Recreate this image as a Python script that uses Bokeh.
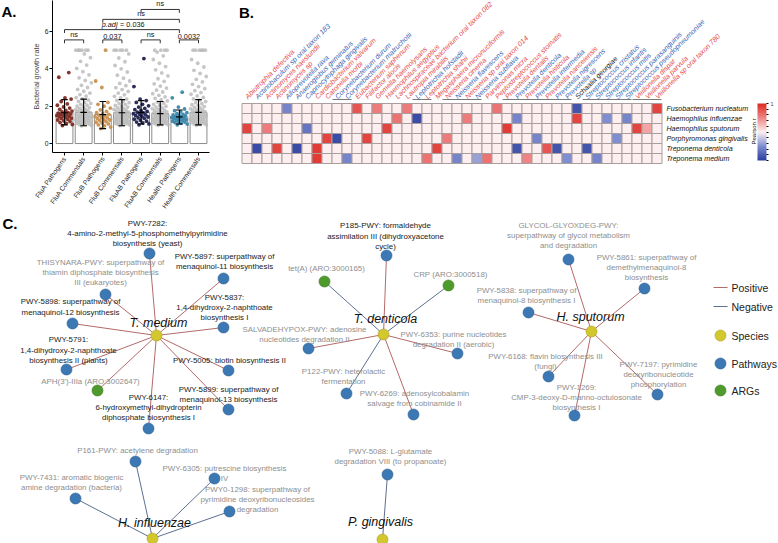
import numpy as np
from bokeh.plotting import figure
from bokeh.models import Range1d, FixedTicker, LinearColorMapper, ColorBar, ColumnDataSource
from bokeh.layouts import column, row
from bokeh.embed import file_html
from bokeh.resources import INLINE
from bokeh.core.properties import value

FONT = "Liberation Sans"

# ======================= PANEL A DATA =======================
groups = ["FluA Pathogens", "FluA Commensals", "FluB Pathogens", "FluB Commensals",
          "FluAB Pathogens", "FluAB Commensals", "Health Pathogens", "Health Commensals"]
bar_mean = [1.65, 1.67, 1.55, 1.65, 1.67, 1.60, 1.43, 1.67]
err_lo = [1.00, 0.95, 0.80, 0.95, 1.05, 1.00, 1.05, 1.00]
err_hi = [2.35, 2.38, 2.25, 2.35, 2.30, 2.25, 1.80, 2.35]

pts_fluA_path = [0.96, 1.02, 1.08, 1.12, 1.18, 1.21, 1.26, 1.3, 1.33, 1.36, 1.4, 1.43, 1.45, 1.48,
                 1.5, 1.53, 1.56, 1.58, 1.6, 1.63, 1.66, 1.7, 1.74, 1.78, 1.83, 1.9, 1.96, 2.05,
                 2.12, 2.25, 2.38, 2.45, 3.55, 3.8]
pts_fluA_comm = [0.95, 0.97, 1.0, 1.02, 1.04, 1.07, 1.09, 1.11, 1.13, 1.16, 1.18, 1.2, 1.23, 1.25,
                 1.27, 1.3, 1.32, 1.34, 1.37, 1.39, 1.41, 1.44, 1.46, 1.48, 1.51, 1.53, 1.56, 1.58,
                 1.61, 1.63, 1.66, 1.69, 1.72, 1.75, 1.78, 1.81, 1.84, 1.88, 1.92, 1.96, 2.0, 2.05,
                 2.1, 2.15, 2.2, 2.26, 2.32, 2.39, 2.46, 2.54, 2.62, 2.7, 2.8, 2.9, 3.0, 3.12, 3.25,
                 3.38, 3.52, 3.68, 3.85, 4.02, 4.2, 4.4, 4.6, 4.8, 5.0, 5.0, 5.0, 5.0, 5.0, 5.0]
pts_fluB_path = [0.8, 0.88, 0.95, 1.0, 1.05, 1.1, 1.14, 1.18, 1.22, 1.26, 1.3, 1.33, 1.37, 1.4,
                 1.44, 1.48, 1.52, 1.56, 1.6, 1.66, 1.72, 1.8, 1.9, 2.0, 2.1, 2.2, 3.0, 3.35, 5.0]
pts_fluB_comm = [0.96, 0.99, 1.01, 1.03, 1.06, 1.08, 1.1, 1.12, 1.15, 1.17, 1.19, 1.22, 1.24, 1.26,
                 1.29, 1.31, 1.33, 1.36, 1.38, 1.4, 1.43, 1.45, 1.47, 1.5, 1.52, 1.55, 1.57, 1.6,
                 1.62, 1.65, 1.68, 1.71, 1.74, 1.77, 1.8, 1.83, 1.87, 1.91, 1.95, 1.99, 2.04, 2.09,
                 2.14, 2.19, 2.25, 2.31, 2.38, 2.45, 2.53, 2.61, 2.7, 2.79, 2.89, 2.99, 3.1, 3.22,
                 3.35, 3.5, 3.66, 3.83, 4.0, 4.18, 4.38, 4.58, 4.8, 5.0, 5.0, 5.0, 5.0, 5.0]
pts_fluAB_path = [1.0, 1.05, 1.1, 1.15, 1.2, 1.25, 1.3, 1.35, 1.38, 1.42, 1.46, 1.5, 1.53, 1.57,
                  1.6, 1.64, 1.68, 1.72, 1.77, 1.82, 1.88, 1.95, 2.02, 2.1, 2.2, 2.3, 2.38, 3.05, 4.55]
pts_fluAB_comm = [0.97, 1.0, 1.02, 1.04, 1.07, 1.09, 1.11, 1.14, 1.16, 1.18, 1.21, 1.23, 1.25, 1.28,
                  1.3, 1.32, 1.35, 1.37, 1.39, 1.42, 1.44, 1.46, 1.49, 1.51, 1.54, 1.56, 1.59, 1.61,
                  1.64, 1.67, 1.7, 1.73, 1.76, 1.79, 1.83, 1.87, 1.91, 1.95, 2.0, 2.05, 2.1, 2.16,
                  2.22, 2.28, 2.35, 2.42, 2.5, 2.58, 2.67, 2.76, 2.86, 2.97, 3.08, 3.2, 3.33, 3.47,
                  3.62, 3.78, 3.95, 4.12, 4.3, 4.5, 4.7, 4.9, 5.0, 5.0, 5.0, 5.0]
pts_health_path = [1.0, 1.04, 1.08, 1.12, 1.15, 1.18, 1.2, 1.23, 1.26, 1.28, 1.3, 1.33, 1.35, 1.38,
                   1.4, 1.42, 1.45, 1.48, 1.5, 1.53, 1.56, 1.6, 1.65, 1.7, 1.76, 1.85, 1.95, 2.45, 2.75]
pts_health_comm = [0.98, 1.0, 1.02, 1.05, 1.07, 1.09, 1.12, 1.14, 1.16, 1.19, 1.21, 1.23, 1.26,
                   1.28, 1.3, 1.33, 1.35, 1.37, 1.4, 1.42, 1.44, 1.47, 1.49, 1.52, 1.54, 1.57, 1.59,
                   1.62, 1.64, 1.67, 1.7, 1.73, 1.76, 1.79, 1.82, 1.86, 1.9, 1.94, 1.98, 2.03, 2.08,
                   2.13, 2.19, 2.25, 2.32, 2.39, 2.47, 2.55, 2.64, 2.73, 2.83, 2.94, 3.05, 3.17,
                   3.3, 3.44, 3.59, 3.75, 3.92, 4.1, 4.3, 4.5, 5.0, 5.0, 5.0, 5.0, 5.0, 5.0]
group_points = [pts_fluA_path, pts_fluA_comm, pts_fluB_path, pts_fluB_comm,
                pts_fluAB_path, pts_fluAB_comm, pts_health_path, pts_health_comm]
point_colors = ["#7f2a22", "#b8b8b8", "#c8904f", "#b8b8b8", "#1f2150", "#b8b8b8", "#3b86aa", "#b8b8b8"]

comparisons = [(0, 1, "ns"), (2, 3, "0.037"), (4, 5, "ns"), (6, 7, "0.0032"),
               (0, 6, "p.adj = 0.036"), (2, 6, "ns"), (4, 6, "ns")]
comparison_levels = [5.55, 5.55, 5.55, 5.55, 6.1, 6.65, 7.18]

# ======================= PANEL B DATA =======================
taxa = ["Abiotrophia defectiva", "Actinobaculum sp oral taxon 183", "Actinomyces naeslundii",
        "Actinomyces sp", "Alloprevotella rava", "Anaeroglobus geminatus", "Capnocytophaga gingivalis",
        "Cardiobacterium valvarum", "Catonella morbi", "Corynebacterium durum",
        "Corynebacterium matruchotii", "Eubacterium saphenum", "Filifactor alocis",
        "Gemella haemolysans", "Haemophilus aegyptius", "Lachnospiraceae bacterium oral taxon 082",
        "Lautropia mirabilis", "Leptotrichia hofstadii", "Leptotrichia shahii",
        "Megasphaera micronuciformis", "Neisseria cinerea", "Neisseria flavescens",
        "Neisseria sp oral taxon 014", "Neisseria subflava", "Parvimonas micra",
        "Peptostreptococcus stomatis", "Prevotella dentalis", "Prevotella denticola",
        "Prevotella histicola", "Prevotella intermedia", "Prevotella nanceiensis",
        "Prevotella nigrescens", "Prevotella sp", "Schaalia georgiae", "Streptococcus cristatus",
        "Streptococcus infantis", "Streptococcus mitis", "Streptococcus parasanguinis",
        "Streptococcus pseudopneumoniae", "Veillonella dispar", "Veillonella parvula",
        "Veillonella sp oral taxon 780"]
pathogens = ["Fusobacterium nucleatum", "Haemophilus influenzae", "Haemophilus sputorum",
             "Porphyromonas gingivalis", "Treponema denticola", "Treponema medium"]
# non-zero Pearson r per pathogen row (column index -> r)
corr_fuso = {4: -0.55, 11: 0.75, 13: 0.55, 16: 0.55, 25: 0.6, 33: -0.85, 41: 0.85}
corr_hinf = {15: 0.6, 17: -0.9, 22: 0.55, 27: -0.55, 33: 0.85, 36: -0.5, 38: -0.55}
corr_hspu = {0: 0.85, 2: 0.55, 6: -0.65, 14: 0.85, 26: 0.9, 39: 0.85, 40: 0.35}
corr_pgin = {8: 0.85, 9: -0.9, 12: 0.85, 20: 0.55, 29: -0.55, 37: -0.5}
corr_tden = {1: -0.9, 3: 0.85, 5: -0.9, 7: 0.9, 19: 0.85, 27: -0.85, 30: 0.75, 31: -0.85, 34: -0.85}
corr_tmed = {7: 0.9, 10: -0.55, 18: 0.6, 21: -0.55, 23: -0.4, 24: 0.6, 28: 0.5, 32: -0.5, 35: -0.55}
corr_rows = [corr_fuso, corr_hinf, corr_hspu, corr_pgin, corr_tden, corr_tmed]
grouped_genera = ["Corynebacterium", "Leptotrichia", "Neisseria", "Prevotella", "Streptococcus", "Veillonella"]
cbar_ticks = [1, 0.8, 0.6, 0.4, 0.2, 0, -0.2, -0.4, -0.6, -0.8, -1]

# ======================= PANEL C DATA =======================
hubs = ["T. medium", "T. denticola", "H. sputorum", "H. influenzae", "P. gingivalis"]
net_label = [
    "PWY-7282:\n4-amino-2-methyl-5-phosphomethylpyrimidine\nbiosynthesis (yeast)",
    "THISYNARA-PWY: superpathway of\nthiamin diphosphate biosynthesis\nIII (eukaryotes)",
    "PWY-5897: superpathway of\nmenaquinol-11 biosynthesis",
    "PWY-5898: superpathway of\nmenaquinol-12 biosynthesis",
    "PWY-5837:\n1,4-dihydroxy-2-naphthoate\nbiosynthesis I",
    "PWY-5791:\n1,4-dihydroxy-2-naphthoate\nbiosynthesis II (plants)",
    "PWY-5005: biotin biosynthesis II",
    "APH(3')-IIIa (ARO:3002647)",
    "PWY-5899: superpathway of\nmenaquinol-13 biosynthesis",
    "PWY-6147:\n6-hydroxymethyl-dihydropterin\ndiphosphate biosynthesis I",
    "P185-PWY: formaldehyde\nassimilation III (dihydroxyacetone\ncycle)",
    "tet(A) (ARO:3000165)",
    "CRP (ARO:3000518)",
    "SALVADEHYPOX-PWY: adenosine\nnucleotides degradation II",
    "PWY-6353: purine nucleotides\ndegradation II (aerobic)",
    "P122-PWY: heterolactic\nfermentation",
    "PWY-6269: adenosylcobalamin\nsalvage from cobinamide II",
    "GLYCOL-GLYOXDEG-PWY:\nsuperpathway of glycol metabolism\nand degradation",
    "PWY-5861: superpathway of\ndemethylmenaquinol-8\nbiosynthesis",
    "PWY-5838: superpathway of\nmenaquinol-8 biosynthesis I",
    "PWY-6168: flavin biosynthesis III\n(fungi)",
    "PWY-7197: pyrimidine\ndeoxyribonucleotide\nphosphorylation",
    "PWY-1269:\nCMP-3-deoxy-D-manno-octulosonate\nbiosynthesis I",
    "P161-PWY: acetylene degradation",
    "PWY-7431: aromatic biogenic\namine degradation (bacteria)",
    "PWY-6305: putrescine biosynthesis\nIV",
    "PWY0-1298: superpathway of\npyrimidine deoxyribonucleosides\ndegradation",
    "PWY-5088: L-glutamate\ndegradation VIII (to propanoate)",
]
net_kind = ["Pathways"] * 7 + ["ARGs"] + ["Pathways"] * 3 + ["ARGs", "ARGs"] + ["Pathways"] * 15
net_hub = ["T. medium"] * 10 + ["T. denticola"] * 7 + ["H. sputorum"] * 6 + ["H. influenzae"] * 4 + ["P. gingivalis"]
net_sign = (["Positive"] * 10 + ["Positive", "Negative", "Negative", "Positive", "Positive", "Negative", "Positive"]
            + ["Positive"] * 6 + ["Negative"] * 4 + ["Negative"])
net_dark = [True, False, True, True, True, True, True, False, True, True,
            True] + [False] * 17
legend_edges = ["Positive", "Negative"]
legend_nodes = ["Species", "Pathways", "ARGs"]

# ======================= LAYOUT (pixel positions of the network drawing) =======================
hub_xy = {"T. medium": (156, 333), "T. denticola": (383, 332), "H. sputorum": (591, 329),
          "H. influenzae": (152, 536), "P. gingivalis": (382, 537)}
hub_label_xy = {"T. medium": (158, 320), "T. denticola": (385, 316), "H. sputorum": (590, 314),
                "H. influenzae": (154, 520), "P. gingivalis": (380, 519)}
node_xy = [(149, 251), (105, 292), (223, 276), (72, 321), (223, 325), (66, 367), (228, 368),
           (97, 388), (228, 407), (148, 426),
           (386, 253), (324, 279), (448, 283), (308, 346), (457, 351), (346, 391), (413, 412),
           (568, 257), (644, 286), (528, 310), (548, 374), (657, 392), (574, 413),
           (135, 459), (75, 496), (214, 476), (229, 509),
           (387, 472)]
label_xy = [(147, 231), (100, 270), (224, 259), (70, 304.5), (224, 305), (68, 347.5), (229, 358.3),
            (90, 379), (228, 391.7), (148, 404.8),
            (385, 233.5), (326, 265.7), (450, 272.3), (304, 331.7), (453, 337), (343, 374.3), (414, 396),
            (568, 232.7), (646, 265), (526, 293.3), (545, 359.3), (658, 371.7), (576, 395),
            (137, 448.3), (71, 479.7), (224, 471.3), (257, 497),
            (390, 454.3)]
LINE_STEP = 10.2

kind_color = {"Species": "#d3c72e", "Pathways": "#3b78b4", "ARGs": "#4f9a2c"}
kind_line = {"Species": "#a99f22", "Pathways": "#2c5f92", "ARGs": "#3b7a1f"}
sign_color = {"Positive": "#b46a6a", "Negative": "#5d7191"}


def base_fig(**kw):
    p = figure(output_backend="svg", toolbar_location=None, **kw)
    p.outline_line_color = None
    p.xgrid.visible = False
    p.ygrid.visible = False
    p.background_fill_color = "white"
    return p


TOP_H = 212
L_W = 28

# ---------- panel letter A ----------
pL = base_fig(width=L_W, height=TOP_H, x_range=Range1d(0, L_W), y_range=Range1d(TOP_H, 0),
              x_axis_location=None, y_axis_location=None, min_border=0)
pL.text(x=[1], y=[3], text=["A."], text_align="left", text_baseline="top",
        text_font=value(FONT), text_font_size="15px", text_font_style="bold", text_color="black")

# ======================= PANEL A =======================
xs = np.arange(1, len(groups) + 1)
pA = base_fig(frame_width=157, frame_height=152, x_range=Range1d(0.373, 8.574),
              y_range=Range1d(-0.48, 7.66), min_border_left=48 - L_W, min_border_right=27,
              min_border_top=0, min_border_bottom=TOP_H - 152)
pA.vbar(x=xs, top=bar_mean, bottom=0, width=0.88, fill_color="white",
        line_color="#8c8c8c", line_width=1)
for i, vals in enumerate(group_points):
    n = len(vals)
    jit = ((np.arange(n) * 0.6180339887 + 0.37) % 1.0 - 0.5) * 0.84
    alpha = 0.8 if "Commensals" in groups[i] else 0.95
    pA.scatter(x=xs[i] + jit, y=vals, size=3.8, fill_color=point_colors[i], line_color=None,
               fill_alpha=alpha)
cap = 0.17
pA.segment(x0=xs, y0=err_lo, x1=xs, y1=err_hi, line_color="black", line_width=1.1)
pA.segment(x0=xs - cap, y0=err_hi, x1=xs + cap, y1=err_hi, line_color="black", line_width=1.1)
pA.segment(x0=xs - cap, y0=err_lo, x1=xs + cap, y1=err_lo, line_color="black", line_width=1.1)
pA.segment(x0=xs - cap, y0=bar_mean, x1=xs + cap, y1=bar_mean, line_color="black", line_width=1.1)

for (a, b, lab), lev in zip(comparisons, comparison_levels):
    xa, xb = xs[a], xs[b]
    pA.multi_line(xs=[[xa, xa, xb, xb]], ys=[[lev - 0.18, lev, lev, lev - 0.18]],
                  line_color="#333333", line_width=1)
    if lab.startswith("p.adj"):
        head, tail = "p.adj", lab[len("p.adj"):].strip()
        xm = (xa + xb) / 2 - 0.23
        pA.text(x=[xm], y=[lev + 0.06], text=[head], text_align="right", text_baseline="bottom",
                text_font=value(FONT), text_font_size="7.3px", text_font_style="italic",
                text_color="#111111")
        pA.text(x=[xm + 0.13], y=[lev + 0.06], text=[tail], text_align="left", text_baseline="bottom",
                text_font=value(FONT), text_font_size="7.3px", text_color="#111111")
    else:
        pA.text(x=[(xa + xb) / 2], y=[lev + 0.06], text=[lab], text_align="center",
                text_baseline="bottom", text_font=value(FONT), text_font_size="7.3px",
                text_color="#111111")

pA.xaxis.ticker = FixedTicker(ticks=[int(v) for v in xs])
pA.xaxis.major_label_overrides = {int(v): g for v, g in zip(xs, groups)}
pA.xaxis.major_label_orientation = 0.96
pA.yaxis.ticker = FixedTicker(ticks=[0, 2, 4, 6])
pA.yaxis.axis_label = "Bacterial growth rate"
for ax in (pA.xaxis[0], pA.yaxis[0]):
    ax.axis_line_color = "black"
    ax.major_tick_line_color = "black"
    ax.major_tick_in = 0
    ax.major_tick_out = 3
    ax.minor_tick_line_color = None
    ax.major_label_text_font = FONT
    ax.major_label_text_font_size = "6.8px"
    ax.major_label_text_color = "#222222"
    ax.major_label_standoff = 2
pA.yaxis.major_label_standoff = 1
pA.yaxis.axis_label_text_font = FONT
pA.yaxis.axis_label_text_font_size = "7.2px"
pA.yaxis.axis_label_text_font_style = "normal"
pA.yaxis.axis_label_standoff = 1

# ======================= PANEL B =======================
ncol, nrow = len(taxa), len(pathogens)
corr = np.zeros((nrow, ncol))
for r, d in enumerate(corr_rows):
    for c, v in d.items():
        corr[r, c] = v

anchors = [(-1.0, "#2a3d9c"), (-0.5, "#7f8ed0"), (0.0, "#fdf0f0"), (0.5, "#ef8585"), (1.0, "#dc2a22")]


def hex2rgb(h):
    return np.array([int(h[i:i + 2], 16) for i in (1, 3, 5)], dtype=float)


palette = []
for t in np.linspace(-1, 1, 256):
    for k in range(len(anchors) - 1):
        if anchors[k][0] <= t <= anchors[k + 1][0]:
            f = (t - anchors[k][0]) / (anchors[k + 1][0] - anchors[k][0])
            c = hex2rgb(anchors[k][1]) * (1 - f) + hex2rgb(anchors[k + 1][1]) * f
            palette.append("#%02x%02x%02x" % tuple(int(round(v)) for v in c))
            break
mapper = LinearColorMapper(palette=palette, low=-1, high=1)

B_LEFT = 232
B_W = 778 - B_LEFT
# heatmap: one column = 10 px, top edge at picture y = 103
pB = base_fig(frame_width=B_W, frame_height=TOP_H,
              x_range=Range1d((B_LEFT - 237.5) / 10, (778 - 237.5) / 10),
              y_range=Range1d(-(TOP_H - 103) / 10, 103 / 10),
              x_axis_location=None, y_axis_location=None, min_border=0)
cx, cy, cv = [], [], []
for r in range(nrow):
    for c in range(ncol):
        cx.append(c + 0.5)
        cy.append(-(r + 0.5))
        cv.append(corr[r, c])
srcB = ColumnDataSource(dict(x=cx, y=cy, v=cv))
pB.rect(x="x", y="y", width=1, height=1, fill_color={"field": "v", "transform": mapper},
        line_color="#a99d9d", line_width=1, source=srcB)

lab_colors = []
for c in range(ncol):
    vals = corr[:, c][corr[:, c] != 0]
    if (vals > 0).all():
        lab_colors.append("#e5474a")
    elif (vals < 0).all():
        lab_colors.append("#3a5fb3")
    else:
        lab_colors.append("#111111")
genus = [t.split()[0] for t in taxa]
for g in grouped_genera:
    idx = [i for i, gg in enumerate(genus) if gg == g]
    pB.segment(x0=[min(idx) + 0.05], y0=[0.4], x1=[max(idx) + 0.95], y1=[0.4],
               line_color="#7a7a7a", line_width=1)
pB.text(x=[c + 0.45 for c in range(ncol)], y=[0.55] * ncol, text=taxa, angle=np.pi / 4,
        text_align="left", text_baseline="middle", text_color=lab_colors,
        text_font=value(FONT), text_font_size="7.1px", text_font_style="italic")
pB.text(x=[ncol + 0.45] * nrow, y=[-(r + 0.5) for r in range(nrow)], text=pathogens,
        text_align="left", text_baseline="middle", text_color="#111111",
        text_font=value(FONT), text_font_size="7.1px", text_font_style="italic")
cbar = ColorBar(color_mapper=mapper, ticker=FixedTicker(ticks=cbar_ticks),
                major_label_overrides={t: ("%g" % t) for t in cbar_ticks},
                width=9, height=57, location=(753 - B_LEFT, TOP_H - 160), padding=0, label_standoff=2,
                major_label_text_font=FONT, major_label_text_font_size="5.5px",
                major_tick_line_color="black", major_tick_in=0, major_tick_out=2,
                background_fill_alpha=0, border_line_color=None, bar_line_color=None)
pB.add_layout(cbar, "center")
pB.text(x=[(749 - 237.5) / 10], y=[-2.8], text=["Pearson r"], angle=np.pi / 2, text_align="center",
        text_baseline="middle", text_font=value(FONT), text_font_size="6px", text_color="#111111")
pB.text(x=[-0.3], y=[9.95], text=["B."], text_align="left", text_baseline="top",
        text_font=value(FONT), text_font_size="15px", text_font_style="bold", text_color="black")

# ======================= PANEL C =======================
C_H = 543 - TOP_H
pC = base_fig(frame_width=778, frame_height=C_H, x_range=Range1d(0, 778), y_range=Range1d(543, TOP_H),
              x_axis_location=None, y_axis_location=None, min_border=0)
ex0 = [hub_xy[h][0] for h in net_hub]
ey0 = [hub_xy[h][1] for h in net_hub]
ex1 = [p[0] for p in node_xy]
ey1 = [p[1] for p in node_xy]
pC.segment(x0=ex0, y0=ey0, x1=ex1, y1=ey1, line_color=[sign_color[s] for s in net_sign], line_width=1)
pC.scatter(x=ex1, y=ey1, size=11, fill_color=[kind_color[k] for k in net_kind],
           line_color=[kind_line[k] for k in net_kind], line_width=0.6)
pC.scatter(x=[hub_xy[h][0] for h in hubs], y=[hub_xy[h][1] for h in hubs], size=11,
           fill_color=kind_color["Species"], line_color=kind_line["Species"], line_width=0.6)
lx, ly, lt, lc = [], [], [], []
for lab, (x, y), dark in zip(net_label, label_xy, net_dark):
    lines = lab.split("\n")
    for k, ln in enumerate(lines):
        lx.append(x)
        ly.append(y + (k - (len(lines) - 1) / 2) * LINE_STEP)
        lt.append(ln)
        lc.append("#1a1a1a" if dark else "#8e8e8e")
pC.text(x=lx, y=ly, text=lt, text_align="center", text_baseline="middle", text_color=lc,
        text_font=value(FONT), text_font_size="7.9px")
pC.text(x=[hub_label_xy[h][0] for h in hubs], y=[hub_label_xy[h][1] for h in hubs], text=hubs,
        text_align="center", text_baseline="alphabetic", text_color="#111111",
        text_font=value(FONT), text_font_size="12.5px", text_font_style="italic")
# legend
leg_y_lines = [285, 304]
pC.segment(x0=[713] * 2, y0=leg_y_lines, x1=[727] * 2, y1=leg_y_lines,
           line_color=[sign_color[s] for s in legend_edges], line_width=1)
leg_y_nodes = [333, 361, 388]
pC.scatter(x=[720] * 3, y=leg_y_nodes, size=11, fill_color=[kind_color[k] for k in legend_nodes],
           line_color=[kind_line[k] for k in legend_nodes], line_width=0.6)
pC.text(x=[731] * 5, y=leg_y_lines + leg_y_nodes, text=legend_edges + legend_nodes,
        text_align="left", text_baseline="middle", text_color="#222222",
        text_font=value(FONT), text_font_size="10.5px")
pC.text(x=[2], y=[TOP_H + 0.5], text=["C."], text_align="left", text_baseline="top",
        text_font=value(FONT), text_font_size="15px", text_font_style="bold", text_color="black")

layout = column(row(pL, pA, pB), pC)
open("out.html", "w").write(file_html(layout, INLINE, "Figure"))
